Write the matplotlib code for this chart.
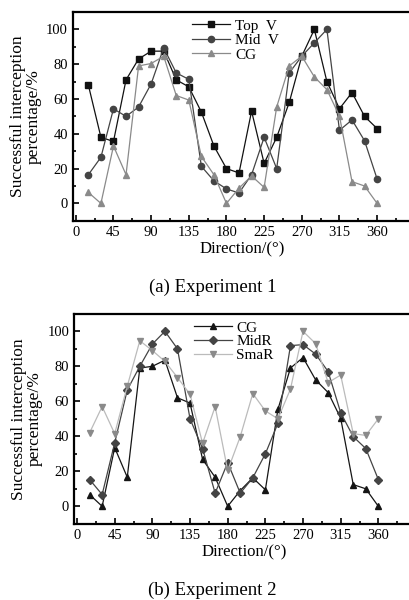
import numpy as np
import matplotlib.pyplot as plt
from matplotlib.ticker import MultipleLocator

## Data
direction = np.arange(15, 361, 15)

# Experiment 1
top_v = [68, 38, 35.6, 71, 83, 87.5, 87.5, 71, 67, 52.5, 33, 20,
         17.5, 53, 23, 38, 58, 84.6, 100, 70, 54.4, 63.7, 50, 43]
mid_v = [16.5, 26.5, 54.4, 50, 55.4, 68.7, 89.4, 75, 71.3, 21.3, 13, 8.3,
         6, 16.5, 38, 20, 75, 84.6, 92.3, 100, 42, 48, 36, 14]
cg_1 = [6.3, 0, 33, 16.5, 79, 80.4, 84.6, 62, 59.4, 27, 16.5, 0,
        8.8, 15.8, 9.2, 55.4, 79, 84.6, 72.7, 65.4, 50.2, 12.5, 10, 0]

# Experiment 2
cg_2 = [6.7, 0, 33.5, 16.6, 79, 80, 83.5, 62, 59, 26.8, 16.6, 0,
        9, 16.3, 9.4, 55.4, 79, 85, 72.3, 65, 50.3, 12.4, 10, 0]
mid_r = [15.3, 6.7, 36.3, 66.5, 80, 92.7, 100, 90, 50, 33, 7.5, 25,
         7.5, 16.3, 30, 47.4, 91.8, 92.4, 87, 77, 53.5, 39.8, 33, 15.3]
sma_r = [42, 57, 41.5, 68.6, 94.6, 89, 82.8, 73.6, 64, 36, 57, 20.5,
         39.8, 64.4, 54.5, 50, 67, 100, 93, 70.7, 75, 41.5, 40.5, 50]

xticks = [0, 45, 90, 135, 180, 225, 270, 315, 360]

plt.rcParams['font.family'] = ['Liberation Serif', 'DejaVu Serif']

fig = plt.figure(figsize=(4.09, 6.0), dpi=100)
ax1 = fig.add_axes([0.178, 0.632, 0.83, 0.348])
ax2 = fig.add_axes([0.181, 0.127, 0.83, 0.350])


def style(ax):
    ax.set_xlim(-3.6, 402)
    ax.set_ylim(-10, 110)
    ax.set_xticks(xticks)
    ax.xaxis.set_minor_locator(MultipleLocator(22.5))
    ax.yaxis.set_major_locator(MultipleLocator(20))
    ax.yaxis.set_minor_locator(MultipleLocator(10))
    ax.tick_params(which='both', direction='in', top=False, right=False,
                   labelsize=10.5, width=1.2)
    ax.tick_params(which='major', length=4)
    ax.tick_params(which='minor', length=2)
    for s in ax.spines.values():
        s.set_linewidth(1.6)
    ax.set_xlabel('Direction/(°)', fontsize=12, labelpad=2)
    ax.set_ylabel('Successful interception\npercentage/%', fontsize=12.5,
                  labelpad=3, linespacing=1.0)


ax1.plot(direction, top_v, '-s', color='#111111', lw=0.9, ms=4.3, label='Top  V')
ax1.plot(direction, mid_v, '-o', color='#444444', lw=0.9, ms=4.5, label='Mid  V')
ax1.plot(direction, cg_1, '-^', color='#8a8a8a', lw=0.9, ms=5, label='CG')
style(ax1)
ax1.legend(loc='upper left', bbox_to_anchor=(0.325, 1.01), frameon=False,
           handlelength=2.5, handletextpad=0.3, labelspacing=0.05, fontsize=11,
           borderaxespad=0.2)
fig.text(0.52, 0.521, '(a) Experiment 1', ha='center', va='center', fontsize=13.5)

ax2.plot(direction, cg_2, '-^', color='#151515', lw=0.9, ms=5, label='CG')
ax2.plot(direction, mid_r, '-D', color='#444444', lw=0.9, ms=3.8, label='MidR',
         markeredgecolor='#444444')
ax2.plot(direction, sma_r, '-v', color='#bbbbbb', lw=0.9, ms=5, label='SmaR',
         markerfacecolor='#8a8a8a', markeredgecolor='#8a8a8a')
style(ax2)
ax2.legend(loc='upper left', bbox_to_anchor=(0.325, 1.01), frameon=False,
           handlelength=2.5, handletextpad=0.3, labelspacing=0.0, fontsize=11,
           borderaxespad=0.2)
fig.text(0.52, 0.016, '(b) Experiment 2', ha='center', va='center', fontsize=13.5)

fig.savefig('out.png', dpi=100)
